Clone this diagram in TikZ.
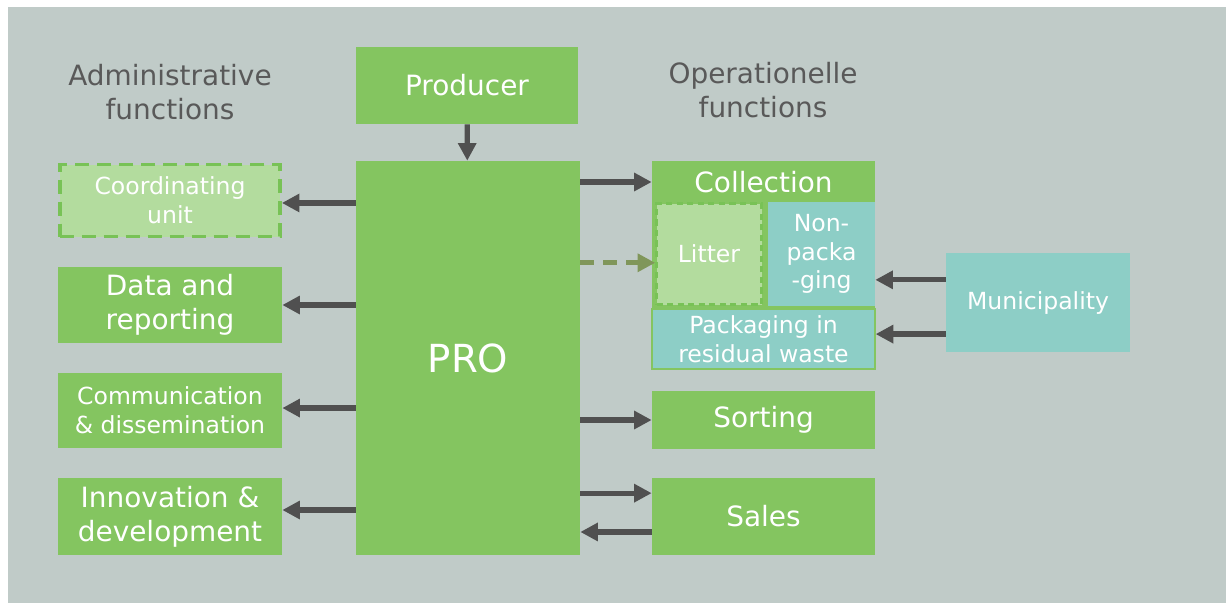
\documentclass[tikz,border=0pt]{standalone}
\usepackage{fontspec}
\setmainfont{DejaVu Sans}
\usetikzlibrary{arrows.meta}

\definecolor{bggray}{RGB}{192,203,200}
\definecolor{boxgreen}{RGB}{132,197,96}
\definecolor{lightgreen}{RGB}{179,220,158}
\definecolor{dashgreen}{RGB}{120,194,86}
\definecolor{teal}{RGB}{141,206,198}
\definecolor{arrowgray}{RGB}{80,80,80}
\definecolor{olive}{RGB}{128,150,90}
\definecolor{headgray}{RGB}{89,89,89}

\newcommand\bigtxt{\fontsize{15.9}{19.3}\selectfont}
\newcommand\smalltxt{\fontsize{13.4}{16.4}\selectfont}
\newcommand\protxt{\fontsize{22}{26}\selectfont}

\tikzset{
  box/.style={fill=boxgreen, text=white, align=center, inner sep=0pt, font=\bigtxt},
  smallbox/.style={box, font=\smalltxt},
  dashbox/.style={smallbox, fill=lightgreen, draw=dashgreen, line width=2.2pt,
    dash pattern=on 8pt off 4.5pt},
  tealbox/.style={smallbox, fill=teal},
  head/.style={text=headgray, align=center, font=\bigtxt},
  arr/.style={draw=arrowgray, line width=3pt, -{Triangle[length=10pt,width=10pt]}},
  dasharr/.style={arr, draw=olive, dash pattern=on 8pt off 5pt,
    -{Triangle[length=10pt,width=10pt,fill=olive]}}
}

\begin{document}
\begin{tikzpicture}[x=0.02cm,y=-0.02cm]
  \useasboundingbox (0,0) rectangle (1226,603);
  \fill[bggray] (8,7) rectangle (1226,603);

  % Titulos
  \node[head] (adm) at (170,92) {Administrative\\functions};
  \node[head] (ope) at (763,90) {Operationelle\\functions};

  % Centro
  \node[box, minimum width=4.44cm, minimum height=1.54cm] (producer) at (467,85.5) {Producer};
  \node[box, font=\protxt, minimum width=4.48cm, minimum height=7.88cm] (pro) at (468,358) {PRO};

  % Administrativo
  \node[dashbox, minimum width=4.4cm, minimum height=1.44cm] (coord) at (170,200.5) {Coordinating\\unit};
  \node[box, minimum width=4.48cm, minimum height=1.52cm] (data) at (170,305) {Data and\\reporting};
  \node[smallbox, minimum width=4.48cm, minimum height=1.5cm] (comm) at (170,410.5) {Communication\\\& dissemination};
  \node[box, minimum width=4.48cm, minimum height=1.54cm] (innov) at (170,516.5) {Innovation \&\\development};

  % Operacional
  \node[box, minimum width=4.46cm, minimum height=4.16cm] (coll) at (763.5,265) {};
  \node[box] (colltitle) at (763.5,182) {Collection};
  \node[dashbox, line width=1.5pt, dash pattern=on 3.5pt off 2.5pt,
    minimum width=2.1cm, minimum height=2.02cm] (litter) at (709,254) {Litter};
  \node[tealbox, minimum width=2.14cm, minimum height=2.08cm] (nonpack) at (821.5,254) {Non-\\packa\\-ging};
  \node[tealbox, draw=boxgreen, line width=0.8pt, minimum width=4.46cm, minimum height=1.2cm] (packres) at (763.5,339) {Packaging in\\residual waste};
  \node[box, minimum width=4.46cm, minimum height=1.16cm] (sorting) at (763.5,420) {Sorting};
  \node[box, minimum width=4.46cm, minimum height=1.54cm] (sales) at (763.5,516.5) {Sales};
  \node[tealbox, minimum width=3.68cm, minimum height=1.98cm] (muni) at (1038,302.5) {Municipality};

  % Setas
  \draw[arr] (producer) -- (pro);
  \draw[arr] ([yshift=-1.4pt]pro.west |- coord) -- ([yshift=-1.4pt]coord.east);
  \draw[arr] (pro.west |- data) -- (data.east);
  \draw[arr] ([yshift=1.4pt]pro.west |- comm) -- ([yshift=1.4pt]comm.east);
  \draw[arr] ([yshift=3.7pt]pro.west |- innov) -- ([yshift=3.7pt]innov.east);

  \draw[arr] (pro.east |- colltitle) -- (colltitle -| coll.west);
  \draw[dasharr] ([yshift=-5pt]pro.east |- litter) -- ([yshift=-5pt]litter.west);
  \draw[arr] ([yshift=-14.7pt]muni.west |- nonpack) -- ([yshift=-14.7pt]nonpack.east);
  \draw[arr] ([yshift=2.8pt]muni.west |- packres) -- ([yshift=2.8pt]packres.east);
  \draw[arr] (pro.east |- sorting) -- (sorting.west);
  \draw[arr] ([yshift=13.3pt]pro.east |- sales) -- ([yshift=13.3pt]sales.west);
  \draw[arr] ([yshift=-8.8pt]sales.west) -- ([yshift=-8.8pt]pro.east |- sales);
\end{tikzpicture}
\end{document}
